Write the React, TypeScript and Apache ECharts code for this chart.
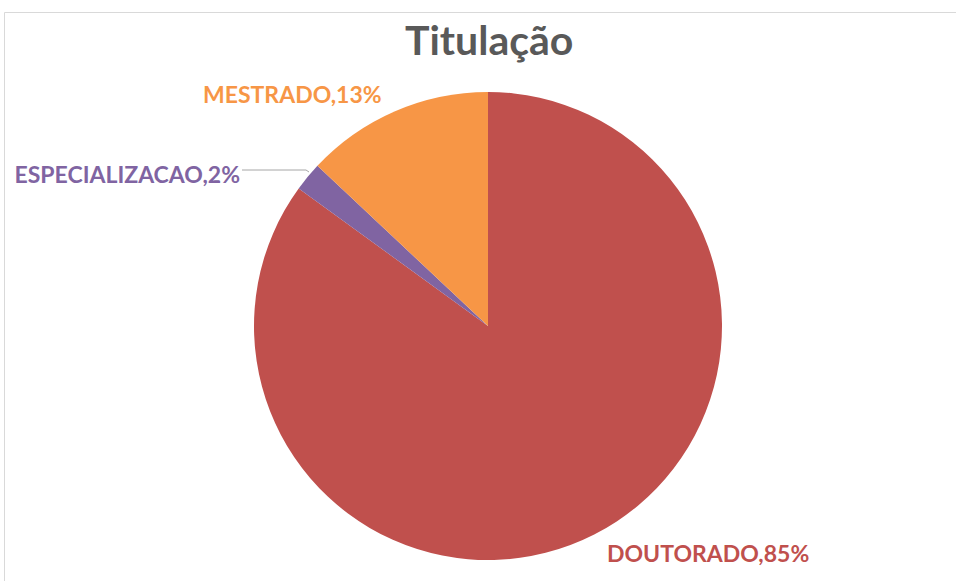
import React, { useEffect, useRef } from "react";
import * as echarts from "echarts";

const categories = ["DOUTORADO", "ESPECIALIZACAO", "MESTRADO"];
const values = [85, 2, 13];
const colors = ["#C0504D", "#8064A2", "#F79646"];
const titleText = "Titulação";

export default function App() {
  const ref = useRef<HTMLDivElement>(null);
  useEffect(() => {
    if (!ref.current) return;
    const chart = echarts.init(ref.current, null, { renderer: "svg" });
    const font = "Lato, 'Open Sans', sans-serif";
    chart.setOption({
      animation: false,
      backgroundColor: "#ffffff",
      title: {
        text: titleText,
        left: 400,
        top: 14,
        textStyle: { fontFamily: font, fontWeight: "bold", fontSize: 41, color: "#595959" },
      },
      graphic: [
        {
          type: "rect",
          shape: { x: 4.5, y: 12.5, width: 1200, height: 800 },
          style: { fill: "none", stroke: "#d9d9d9", lineWidth: 1 },
          silent: true,
        },
      ],
      series: [
        {
          type: "pie",
          center: [488, 326],
          radius: [0, 234],
          startAngle: 90,
          clockwise: true,
          avoidLabelOverlap: false,
          data: categories.map((c, i) => ({
            name: c,
            value: values[i],
            itemStyle: { color: colors[i] },
            label: { color: colors[i] },
            labelLine: { show: i === 1, length: 3, length2: 62, lineStyle: { color: "#a6a6a6", width: 1 } },
          })),
          label: {
            show: true,
            position: "outside",
            formatter: (p: any) => `${p.name},${p.value}%`,
            fontFamily: font,
            fontWeight: "bold",
            fontSize: 23,
            distanceToLabelLine: 2,
          },
          labelLayout: (params: any) => {
            if (params.dataIndex === 0) return { x: 607, y: 553, align: "left", verticalAlign: "middle" };
            if (params.dataIndex === 2) return { x: 203, y: 94, align: "left", verticalAlign: "middle" };
            return {
              x: 240,
              y: 174,
              align: "right",
              verticalAlign: "middle",
              labelLinePoints: [[309, 172], [306, 170], [242, 170]],
            };
          },
        },
      ],
    });
    return () => chart.dispose();
  }, []);
  return <div ref={ref} style={{ position: "fixed", left: 0, top: 0, width: 956, height: 581 }} />;
}
